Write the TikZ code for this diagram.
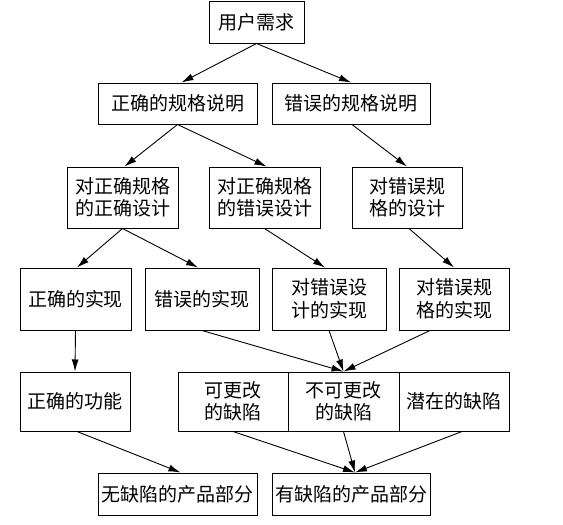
\documentclass[tikz,border=0pt]{standalone}
\usepackage{fontspec}
\newfontfamily\cjk{Noto Sans CJK SC}
\usetikzlibrary{arrows.meta}
\begin{document}
\begin{tikzpicture}[x=1pt,y=-1pt,
  box/.style={draw=black,line width=1pt,rectangle,inner sep=0pt,align=center,
    font=\cjk\fontsize{19}{22.5}\selectfont,text=black},
  arr/.style={draw=black,line width=0.9pt,-{Latex[length=12pt,width=7pt]}}]
\fill[white] (0,0) rectangle (563,525);
\useasboundingbox (0,0) rectangle (563,525);
% row 1
\node[box,minimum width=95pt,minimum height=42pt] (u) at (256.5,22) {用户需求};
% row 2
\node[box,minimum width=159pt,minimum height=41pt] (cs) at (177.5,103.5) {正确的规格说明};
\node[box,minimum width=158pt,minimum height=41pt] (ws) at (351,103.5) {错误的规格说明};
% row 3
\node[box,minimum width=111pt,minimum height=61pt] (d1) at (122.5,197.5) {对正确规格\\的正确设计};
\node[box,minimum width=111pt,minimum height=61pt] (d2) at (264.5,197.5) {对正确规格\\的错误设计};
\node[box,minimum width=110pt,minimum height=61pt] (d3) at (407,197.5) {对错误规\\格的设计};
% row 4
\node[box,minimum width=111pt,minimum height=62pt] (i1) at (75.5,299) {正确的实现};
\node[box,minimum width=114pt,minimum height=62pt] (i2) at (202,299) {错误的实现};
\node[box,minimum width=114pt,minimum height=62pt] (i3) at (329,299) {对错误设\\计的实现};
\node[box,minimum width=110pt,minimum height=62pt] (i4) at (454,299) {对错误规\\格的实现};
% row 5
\node[box,minimum width=110pt,minimum height=59pt] (f1) at (75,401.5) {正确的功能};
\node[box,minimum width=110pt,minimum height=59pt] (g1) at (233,401.5) {可更改\\的缺陷};
\node[box,minimum width=111pt,minimum height=59pt] (g2) at (343.5,401.5) {不可更改\\的缺陷};
\node[box,minimum width=110pt,minimum height=59pt] (g3) at (454,401.5) {潜在的缺陷};
% row 6
\node[box,minimum width=159pt,minimum height=42pt] (p1) at (177.5,494) {无缺陷的产品部分};
\node[box,minimum width=158pt,minimum height=42pt] (p2) at (351,494) {有缺陷的产品部分};
% arrows
\draw[arr] (u.south) -- ([xshift=4pt]cs.north);
\draw[arr] (u.south) -- (ws.north);
\draw[arr] (cs.south) -- ([xshift=2pt]d1.north);
\draw[arr] (cs.south) -- ([xshift=2pt]d2.north);
\draw[arr] ([xshift=1pt]ws.south) -- (d3.north);
\draw[arr] (d1.south) -- ([xshift=1.5pt]i1.north);
\draw[arr] (d1.south) -- ([xshift=-4pt]i2.north);
\draw[arr] (d2.south) -- ([xshift=-4pt]i3.north);
\draw[arr] ([xshift=2pt]d3.south) -- (i4.north);
\draw[arr] (i1.south) -- (f1.north);
\draw[arr] (i2.south) -- (g2.north);
\draw[arr] (i3.south) -- (g2.north);
\draw[arr] ([xshift=-24pt]i4.south) -- (g2.north);
\draw[arr] ([xshift=2pt]f1.south) -- ([xshift=3pt]p1.north);
\draw[arr] (g1.south) -- ([xshift=4pt]p2.north);
\draw[arr] (g2.south) -- ([xshift=4pt]p2.north);
\draw[arr] ([xshift=8pt]g3.south) -- ([xshift=4pt]p2.north);
\end{tikzpicture}
\end{document}
